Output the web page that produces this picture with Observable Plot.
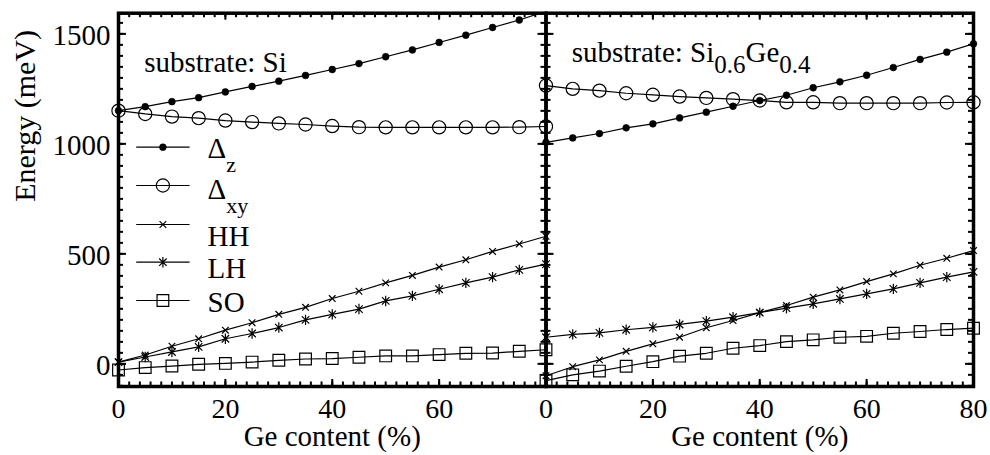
<!DOCTYPE html>
<html><head><meta charset="utf-8">
<script src="https://cdn.jsdelivr.net/npm/d3@7"></script>
<script src="https://cdn.jsdelivr.net/npm/@observablehq/plot@0.6"></script>
<style>body{margin:0;background:#fff}</style>
</head><body><div id="chart"></div>
<script>
// ---------- data ----------
const panels = ["Si", "SiGe"];
const panelTitles = ["substrate: Si", "substrate: Si_{0.6}Ge_{0.4}"];
const geContent = [0, 5, 10, 15, 20, 25, 30, 35, 40, 45, 50, 55, 60, 65, 70, 75, 80];
const seriesKeys = ["dz", "dxy", "hh", "lh", "so"];
const legendLabels = ["Δ_{z}", "Δ_{xy}", "HH", "LH", "SO"];

// substrate: Si
const deltaZ_Si  = [1151, 1169, 1192, 1210, 1236, 1261, 1285, 1311, 1338, 1365, 1396, 1427, 1461, 1494, 1529, 1563, 1603];
const deltaXY_Si = [1151, 1136, 1124, 1117, 1106, 1099, 1093, 1088, 1081, 1076, 1075, 1075, 1075, 1075, 1075, 1076, 1079];
const HH_Si      = [8, 40, 80, 114, 153, 187, 225, 257, 297, 330, 368, 402, 440, 473, 511, 545, 580];
const LH_Si      = [8, 31, 54, 77, 114, 138, 165, 200, 225, 249, 286, 309, 339, 368, 394, 427, 453];
const SO_Si      = [-28, -17, -10, -2, 2, 8, 16, 22, 24, 30, 36, 36, 42, 48, 49, 57, 64];

// substrate: Si0.6Ge0.4
const deltaZ_SiGe  = [1007, 1027, 1047, 1073, 1091, 1118, 1144, 1171, 1197, 1221, 1255, 1282, 1312, 1347, 1384, 1417, 1455];
const deltaXY_SiGe = [1265, 1250, 1242, 1230, 1223, 1215, 1209, 1203, 1197, 1189, 1189, 1185, 1185, 1185, 1185, 1188, 1189];
const HH_SiGe      = [-54, -13, 18, 57, 91, 121, 164, 197, 233, 265, 303, 336, 374, 409, 448, 480, 515];
const LH_SiGe      = [121, 134, 141, 155, 166, 179, 194, 212, 233, 253, 273, 295, 318, 341, 368, 394, 418];
const SO_SiGe      = [-76, -50, -33, -11, 10, 35, 48, 71, 83, 101, 109, 121, 125, 139, 147, 156, 162];

const yTickLabels = [0, 500, 1000, 1500];
const xTickLabels_Si = [0, 20, 40, 60];
const xTickLabels_SiGe = [0, 20, 40, 60, 80];
const xTitle = "Ge content (%)";
const yTitle = "Energy (meV)";

// ---------- table ----------
const energy = {
  Si:   {dz: deltaZ_Si, dxy: deltaXY_Si, hh: HH_Si, lh: LH_Si, so: SO_Si},
  SiGe: {dz: deltaZ_SiGe, dxy: deltaXY_SiGe, hh: HH_SiGe, lh: LH_SiGe, so: SO_SiGe}
};
const rows = [];
for (const p of panels) for (const s of seriesKeys)
  geContent.forEach((g, i) => rows.push({panel: p, series: s, g, e: energy[p][s][i]}));

// ---------- layout ----------
const width = 990, height = 455;
const margin = {top: 12.7, right: 17, bottom: 69, left: 118};
const facetW = (width - margin.left - margin.right) / 2;
const frameH = height - margin.top - margin.bottom;
const yDomain = [-103, 1594];
const font = "Liberation Serif";

// ---------- symbols ----------
const timesSym = {draw(ctx, size) { const r = Math.sqrt(size / Math.PI);
  ctx.moveTo(-r, -r); ctx.lineTo(r, r); ctx.moveTo(-r, r); ctx.lineTo(r, -r); }};
const asteriskSym = {draw(ctx, size) { const r = Math.sqrt(size / Math.PI), k = r * 0.72;
  ctx.moveTo(0, -r); ctx.lineTo(0, r); ctx.moveTo(-k, -k); ctx.lineTo(k, k); ctx.moveTo(-k, k); ctx.lineTo(k, -k); }};
const legendLineSym = {draw(ctx) { ctx.moveTo(-26.7, 0); ctx.lineTo(26.7, 0); }};

const seriesStyle = {
  dz:  {symbol: "circle", r: 3.4, fill: "black", stroke: "black", strokeWidth: 0.6},
  dxy: {symbol: "circle", r: 6.6, fill: "none", stroke: "black", strokeWidth: 1.2},
  hh:  {symbol: timesSym, r: 3.3, fill: "none", stroke: "black", strokeWidth: 1.2},
  lh:  {symbol: asteriskSym, r: 5.2, fill: "none", stroke: "black", strokeWidth: 1.2},
  so:  {symbol: "square", r: 6.6, fill: "none", stroke: "black", strokeWidth: 1.2}
};

// ---------- marks ----------
const marks = [];
marks.push(Plot.frame({stroke: "black", strokeWidth: 3.5}));

// inward ticks on all four sides of each panel
const yMinor = d3.range(-100, 1595, 50);
const xMinor = d3.range(0, 81, 2);
const xMajor = d3.range(0, 81, 20);
const tk = {stroke: "black", strokeWidth: 2};
marks.push(Plot.ruleY(yMinor, {...tk, insetRight: facetW - 5}));
marks.push(Plot.ruleY(yMinor, {...tk, insetLeft: facetW - 5}));
marks.push(Plot.ruleY(yTickLabels, {...tk, insetRight: facetW - 8}));
marks.push(Plot.ruleY(yTickLabels, {...tk, insetLeft: facetW - 8}));
marks.push(Plot.ruleX(xMinor, {...tk, insetTop: frameH - 4.5}));
marks.push(Plot.ruleX(xMinor, {...tk, insetBottom: frameH - 4.5}));
marks.push(Plot.ruleX(xMajor, {...tk, insetTop: frameH - 7}));
marks.push(Plot.ruleX(xMajor, {...tk, insetBottom: frameH - 7}));

// series
for (const s of seriesKeys) {
  const d = rows.filter(r => r.series === s);
  marks.push(Plot.line(d, {x: "g", y: "e", fx: "panel", stroke: "black", strokeWidth: 1.2, clip: s === "dz"}));
  marks.push(Plot.dot(d.filter(r => r.e <= yDomain[1]), {x: "g", y: "e", fx: "panel", ...seriesStyle[s]}));
}

// legend (left panel)
const legendLineDy = [134, 172.3, 211.3, 249, 287.3];
const legendTextDy = [144.3, 185.3, 232.3, 265, 298.8];
seriesKeys.forEach((s, i) => {
  const one = [{panel: "Si", label: legendLabels[i]}];
  marks.push(Plot.dot(one, {fx: "panel", frameAnchor: "top-left", dx: 44.4, dy: legendLineDy[i],
    symbol: legendLineSym, r: 1, fill: "none", stroke: "black", strokeWidth: 1.2}));
  marks.push(Plot.dot(one, {fx: "panel", frameAnchor: "top-left", dx: 44.4, dy: legendLineDy[i], ...seriesStyle[s]}));
  marks.push(Plot.text(one, {fx: "panel", text: "label", frameAnchor: "top-left", dx: 89, dy: legendTextDy[i],
    textAnchor: "start", lineAnchor: "bottom", fontSize: 29, fontFamily: font, fill: "black"}));
});

// panel titles
marks.push(Plot.text([{panel: "Si", t: panelTitles[0]}], {fx: "panel", text: "t", frameAnchor: "top-left",
  dx: 25.7, dy: 58.3, textAnchor: "start", lineAnchor: "bottom", fontSize: 29, fontFamily: font, fill: "black"}));
marks.push(Plot.text([{panel: "SiGe", t: panelTitles[1]}], {fx: "panel", text: "t", frameAnchor: "top-left",
  dx: 25.7, dy: 49, textAnchor: "start", lineAnchor: "bottom", fontSize: 29, fontFamily: font, fill: "black"}));

// y tick labels
marks.push(Plot.text(yTickLabels.map(v => ({panel: "Si", v})), {fx: "panel", y: "v", text: d => String(d.v),
  frameAnchor: "left", dx: -8, dy: 2.2, textAnchor: "end", fontSize: 29, fontFamily: font, fill: "black"}));

// x tick labels
const xt = [...xTickLabels_Si.map(v => ({panel: "Si", v})), ...xTickLabels_SiGe.map(v => ({panel: "SiGe", v}))];
marks.push(Plot.text(xt, {fx: "panel", x: "v", text: d => String(d.v), frameAnchor: "bottom", dy: 31.5,
  lineAnchor: "bottom", fontSize: 28, fontFamily: font, fill: "black"}));

// axis titles
marks.push(Plot.text(panels.map(p => ({panel: p, t: xTitle})), {fx: "panel", text: "t", frameAnchor: "bottom",
  dy: 59, lineAnchor: "bottom", fontSize: 29, fontFamily: font, fill: "black"}));
marks.push(Plot.text([{panel: "Si", t: yTitle}], {fx: "panel", text: "t", frameAnchor: "left",
  dx: 34.5 - margin.left, dy: 2, rotate: -90, lineAnchor: "bottom", fontSize: 30, fontFamily: font, fill: "black"}));

const svg = Plot.plot({
  width, height,
  marginTop: margin.top, marginRight: margin.right, marginBottom: margin.bottom, marginLeft: margin.left,
  style: {background: "white", overflow: "visible", fontFamily: font},
  fx: {domain: panels, padding: 0, axis: null, round: false},
  x: {domain: [0, 80], axis: null},
  y: {domain: yDomain, axis: null},
  marks
});

// subscripts as tspans
d3.select(svg).selectAll("text").each(function() {
  const s = this.textContent;
  if (!s.includes("_{")) return;
  const isTitle = s.startsWith("substrate");
  const subSize = isTitle ? 25 : 22, shift = isTitle ? 11 : 14;
  const parts = s.split(/(_\{[^}]*\})/).filter(p => p.length);
  const el = d3.select(this);
  el.text(null);
  let down = false;
  for (const p of parts) {
    const m = p.match(/^_\{(.*)\}$/);
    const t = el.append("tspan");
    if (m) { t.text(m[1]).attr("font-size", subSize); if (!down) t.attr("dy", shift); down = true; }
    else { t.text(p); if (down) t.attr("dy", -shift); down = false; }
  }
});

document.getElementById("chart").appendChild(svg);
</script>
</body></html>
